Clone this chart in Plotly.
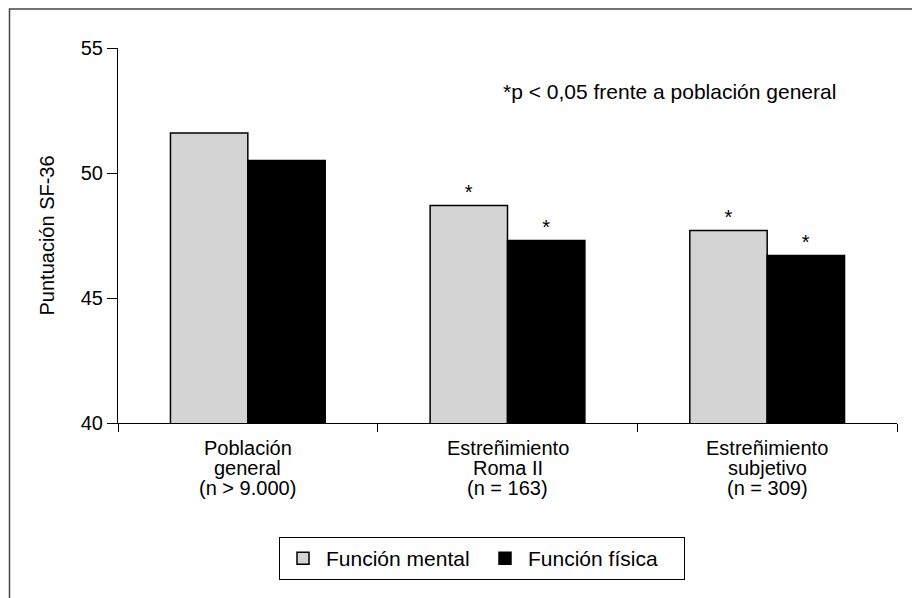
import plotly.graph_objects as go

# Category labels, one list of lines per category
category_lines = [
    ["Población", "general", "(n &gt; 9.000)"],
    ["Estreñimiento", "Roma II", "(n = 163)"],
    ["Estreñimiento", "subjetivo", "(n = 309)"],
]
categories = ["Población general", "Estreñimiento Roma II", "Estreñimiento subjetivo"]
mental = [51.6, 48.7, 47.7]
fisica = [50.5, 47.3, 46.7]
mental_sig = ["", "*", "*"]
fisica_sig = ["", "*", "*"]
series_names = ["Función mental", "Función física"]
y_ticks = [40, 45, 50, 55]

FONT = "Liberation Sans, Arial, Helvetica, sans-serif"

# page offset of the figure inside the html body (default 8px body margin)
OFF = 8
PX0, PX1 = 118, 897   # plot area, page px
PY0, PY1 = 48, 423


def paper_x(px):
    return (px - PX0) / (PX1 - PX0)


def paper_y(py):
    return (PY1 - py) / (PY1 - PY0)


fig = go.Figure()
fig.add_trace(go.Bar(
    x=categories, y=mental, name=series_names[0],
    marker=dict(color="#d4d4d4", line=dict(color="#000000", width=1.5)),
    text=mental_sig, textposition="outside", cliponaxis=False,
    textfont=dict(size=20, color="#000000", family=FONT),
))
fig.add_trace(go.Bar(
    x=categories, y=fisica, name=series_names[1],
    marker=dict(color="#000000", line=dict(color="#000000", width=1.5)),
    text=fisica_sig, textposition="outside", cliponaxis=False,
    textfont=dict(size=20, color="#000000", family=FONT),
))

annotations = [
    dict(text="Puntuación SF-36", xref="paper", yref="paper",
         x=paper_x(46), xanchor="center", y=0.5, yanchor="middle",
         textangle=-90, showarrow=False,
         font=dict(size=20, family=FONT, color="#000000")),
    dict(text="*p &lt; 0,05 frente a población general", xref="paper", yref="paper",
         x=paper_x(838), xanchor="right", y=paper_y(92), yanchor="middle",
         showarrow=False, font=dict(size=21, family=FONT, color="#000000")),
]
line_centers = [448, 468, 488]
for cat, lines in zip(categories, category_lines):
    for ln, yc in zip(lines, line_centers):
        annotations.append(dict(text=ln, xref="x", yref="paper", x=cat, y=paper_y(yc),
                                xanchor="center", yanchor="middle", showarrow=False,
                                font=dict(size=20, family=FONT, color="#000000")))

W, H = 920 - OFF, 598 - OFF
l = PX0 - OFF
t = PY0 - OFF
r = W - (PX1 - OFF)
b = H - (PY1 - OFF)

fig.update_layout(
    width=W, height=H,
    margin=dict(l=l, r=r, t=t, b=b, autoexpand=False),
    paper_bgcolor="white", plot_bgcolor="white",
    font=dict(family=FONT, size=20, color="#000000"),
    barmode="group", bargap=0.404, bargroupgap=0,
    showlegend=True,
    legend=dict(orientation="h", x=paper_x(482), xanchor="center", y=paper_y(537),
                yanchor="top", bordercolor="#000000", borderwidth=1, bgcolor="white",
                font=dict(size=21, family=FONT, color="#000000"),
                itemwidth=36, entrywidth=151, traceorder="normal"),
    xaxis=dict(showline=True, linecolor="#000000", linewidth=1, ticks="outside",
               tickson="boundaries", ticklen=8, tickcolor="#000000", showgrid=False,
               showticklabels=False, fixedrange=True),
    yaxis=dict(range=[40, 55], tickvals=y_ticks, showline=True, linecolor="#000000",
               linewidth=1, ticks="outside", ticklen=10, tickcolor="#000000",
               showgrid=False, zeroline=False,
               tickfont=dict(size=20, family=FONT, color="#000000"), fixedrange=True),
    annotations=annotations,
    shapes=[
        dict(type="rect", xref="paper", yref="paper",
             x0=paper_x(9.5), x1=paper_x(918.5),
             y0=paper_y(640), y1=paper_y(9),
             line=dict(color="#444444", width=1.5), fillcolor="rgba(0,0,0,0)",
             layer="below"),
    ],
)

fig.write_html("out.html")
